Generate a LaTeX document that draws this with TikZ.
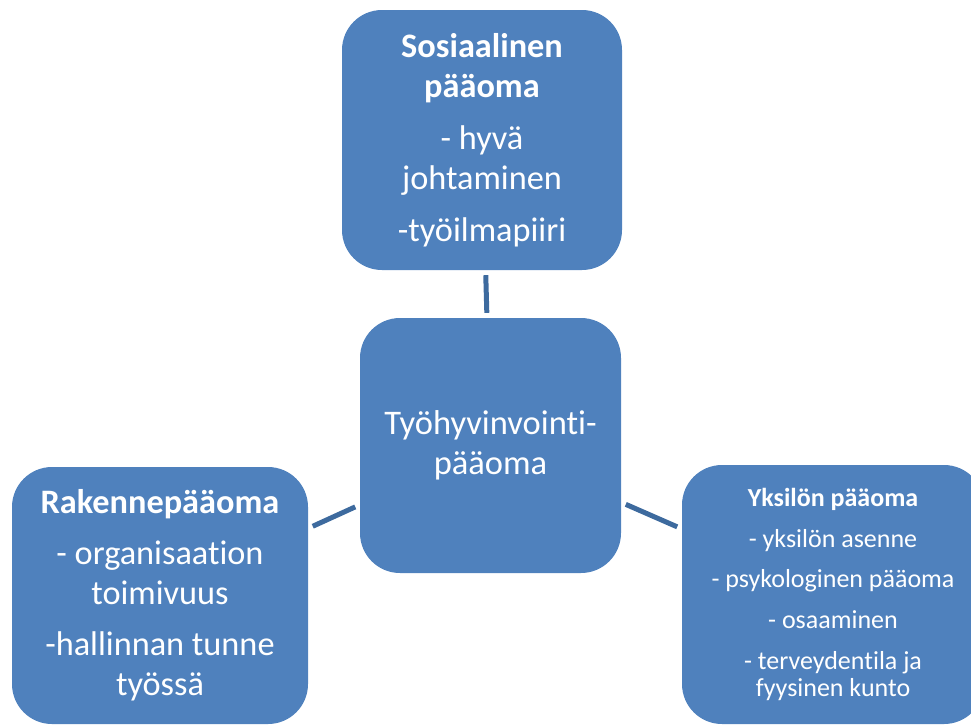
\documentclass[tikz,border=0pt]{standalone}
\usepackage{fontspec}
\setmainfont{Carlito}[Ligatures=NoCommon]
\definecolor{boxblue}{HTML}{4F81BD}
\definecolor{linkblue}{HTML}{3D6A9E}
\begin{document}
\begin{tikzpicture}[x=1pt,y=-1pt,
  box/.style={draw=none,fill=boxblue,rounded corners=40pt,text=white,align=center,inner sep=0pt},
  link/.style={draw=linkblue,line width=5pt,shorten >=5pt,shorten <=5pt}]
\useasboundingbox (0,0) rectangle (971,726);
\clip (0,0) rectangle (971,726);
\node[box,minimum width=280pt,minimum height=260pt,font=\fontsize{34.3}{40.5}\selectfont] (soc) at (482,140)
  {\textbf{Sosiaalinen}\\\textbf{pääoma}\\[11pt]- hyvä\\johtaminen\\[11pt]-työilmapiiri};
\node[box,minimum width=261pt,minimum height=255pt,font=\fontsize{34.5}{40}\selectfont] (mid) at (490.5,445.5)
  {Työhyvinvointi-\\pääoma};
\node[box,minimum width=296pt,minimum height=257pt,font=\fontsize{34.3}{40}\selectfont] (rak) at (160,595.5)
  {\textbf{Rakennepääoma}\\[11pt]- organisaation\\toimivuus\\[11pt]-hallinnan tunne\\työssä};
\node[box,minimum width=302pt,minimum height=259pt,font=\fontsize{26}{27}\selectfont] (yks) at (833,594.5)
  {\textbf{Yksilön pääoma}\\[14pt]- yksilön asenne\\[13pt]- psykologinen pääoma\\[14pt]- osaaminen\\[14pt]- terveydentila ja\\fyysinen kunto};
\draw[link] (soc) -- (mid);
\draw[link] (mid) -- (rak);
\draw[link] (mid) -- (yks);
\end{tikzpicture}
\end{document}
